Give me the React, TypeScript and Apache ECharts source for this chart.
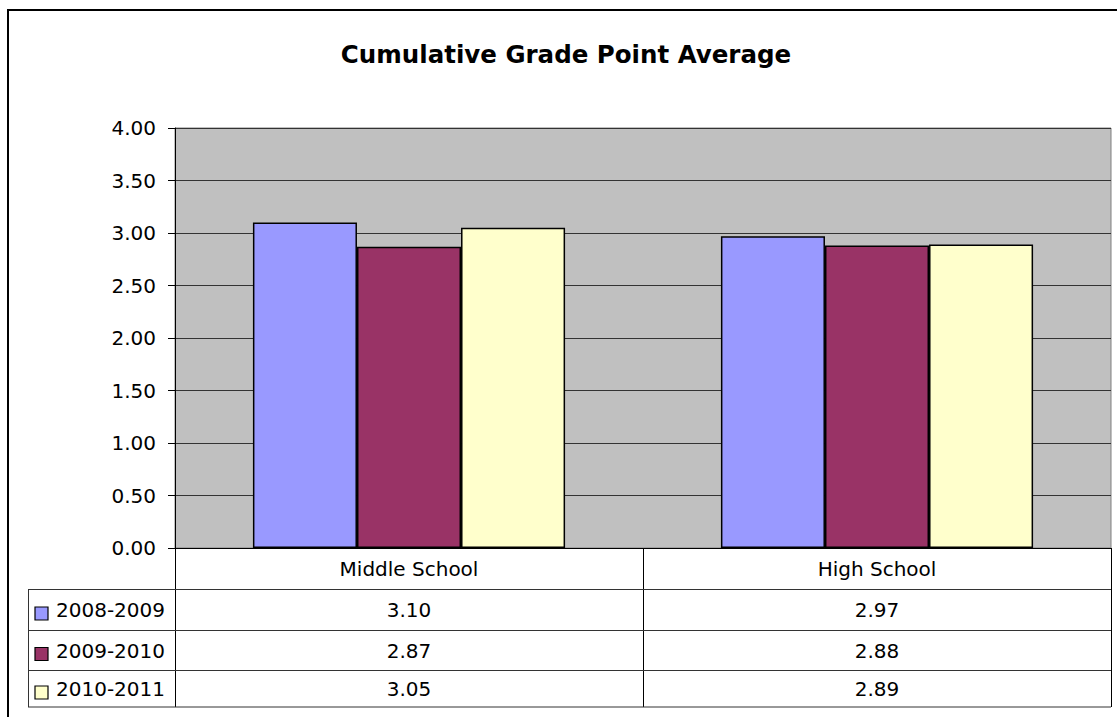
import React, { useEffect, useRef } from "react";
import * as echarts from "echarts";

const categories = ["Middle School", "High School"];
const seriesNames = ["2008-2009", "2009-2010", "2010-2011"];
const values2008 = [3.1, 2.97];
const values2009 = [2.87, 2.88];
const values2010 = [3.05, 2.89];
const seriesValues = [values2008, values2009, values2010];
const seriesColors = ["#9999FF", "#993366", "#FFFFCC"];
const yMin = 0;
const yMax = 4;
const yStep = 0.5;
const titleText = "Cumulative Grade Point Average";

const FONT = "DejaVu Sans";

export default function App() {
  const ref = useRef<HTMLDivElement>(null);

  useEffect(() => {
    if (!ref.current) return;
    const chart = echarts.init(ref.current, null, { renderer: "svg" });
    const gridLeft = 175;
    const gridTop = 128;
    const gridRight = 6;
    const gridBottom = 169;
    const axisY = 717 - gridBottom;
    const tableBottom = 707;
    const rowLines = [589.5, 630.5, 670.5, tableBottom];
    const rowCenters = [610, 650.5, 689];

    chart.setOption({
      animation: false,
      backgroundColor: "#FFFFFF",
      title: {
        text: titleText,
        left: 561,
        top: 37,
        textAlign: "center",
        textStyle: { fontFamily: FONT, fontWeight: "bold", fontSize: 24.5, color: "#000" },
      },
      grid: {
        left: gridLeft,
        top: gridTop,
        right: gridRight,
        bottom: gridBottom,
        show: true,
        backgroundColor: "#C0C0C0",
        borderColor: "#808080",
        borderWidth: 1,
      },
      xAxis: {
        type: "category",
        data: categories,
        axisLine: { show: true, lineStyle: { color: "#000", width: 1 } },
        axisTick: {
          show: true,
          length: tableBottom - axisY,
          lineStyle: { color: "#000", width: 1 },
        },
        axisLabel: {
          margin: 20.5,
          verticalAlign: "middle",
          fontFamily: FONT,
          fontSize: 20,
          color: "#000",
        },
        splitLine: { show: false },
      },
      yAxis: {
        type: "value",
        min: yMin,
        max: yMax,
        interval: yStep,
        axisLine: { show: true, lineStyle: { color: "#000", width: 1 } },
        axisTick: { show: true, length: 7, lineStyle: { color: "#000" } },
        axisLabel: {
          margin: 19,
          fontFamily: FONT,
          fontSize: 20,
          color: "#000",
          formatter: (v: number) => v.toFixed(2),
        },
        splitLine: { show: true, lineStyle: { color: "#333", width: 1 } },
      },
      series: seriesNames.map((name, i) => ({
        name,
        type: "bar",
        data: seriesValues[i],
        barGap: "0%",
        barCategoryGap: "33.3%",
        itemStyle: { color: seriesColors[i], borderColor: "#000", borderWidth: 1.5 },
      })),
    });

    const xs = categories.map((_, i) => chart.convertToPixel({ xAxisIndex: 0 }, i) as number);
    const graphics: any[] = [];
    graphics.push({
      type: "rect",
      z: 100,
      shape: { x: 8, y: 10, width: 1300, height: 900 },
      style: { fill: "none", stroke: "#000", lineWidth: 2 },
      silent: true,
    });
    rowLines.forEach((y) => {
      graphics.push({
        type: "line",
        z: 50,
        shape: { x1: 28, y1: y, x2: 1117 - gridRight, y2: y },
        style: { stroke: "#333", lineWidth: 1 },
      });
    });
    graphics.push({
      type: "line",
      z: 50,
      shape: { x1: 28.5, y1: rowLines[0], x2: 28.5, y2: tableBottom },
      style: { stroke: "#333", lineWidth: 1 },
    });
    seriesNames.forEach((name, r) => {
      const cy = rowCenters[r];
      graphics.push({
        type: "rect",
        z: 50,
        shape: { x: 35, y: cy - 3, width: 13, height: 13 },
        style: { fill: seriesColors[r], stroke: "#000", lineWidth: 1.2 },
      });
      graphics.push({
        type: "text",
        z: 50,
        x: 56,
        y: cy,
        style: {
          text: name,
          fontFamily: FONT,
          fontSize: 20,
          fill: "#000",
          align: "left",
          verticalAlign: "middle",
        },
      });
      seriesValues[r].forEach((v, c) => {
        graphics.push({
          type: "text",
          z: 50,
          x: xs[c],
          y: cy,
          style: {
            text: v.toFixed(2),
            fontFamily: FONT,
            fontSize: 20,
            fill: "#000",
            align: "center",
            verticalAlign: "middle",
          },
        });
      });
    });
    chart.setOption({ graphic: graphics });

    return () => chart.dispose();
  }, []);

  return (
    <div
      ref={ref}
      style={{ position: "absolute", left: 0, top: 0, width: 1117, height: 717 }}
    />
  );
}
